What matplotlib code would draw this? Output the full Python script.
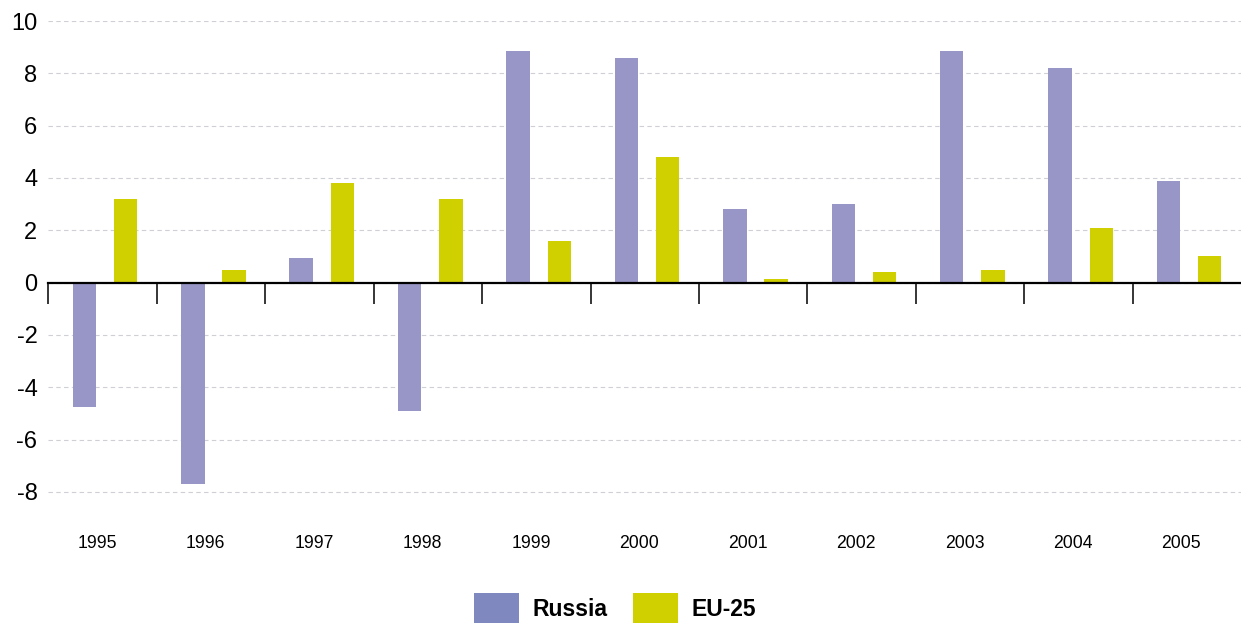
import matplotlib
matplotlib.use("Agg")
import matplotlib.pyplot as plt
import matplotlib.transforms as mtransforms
from matplotlib.patches import Patch
import numpy as np

plt.rcParams['font.family'] = ['Liberation Sans', 'DejaVu Sans']

years = ['1995', '1996', '1997', '1998', '1999', '2000', '2001', '2002', '2003', '2004', '2005']
russia = [-4.75, -7.7, 0.95, -4.9, 8.85, 8.6, 2.8, 3.0, 8.85, 8.2, 3.9]
eu25 = [3.2, 0.5, 3.8, 3.2, 1.6, 4.8, 0.15, 0.4, 0.5, 2.1, 1.0]
yticks = [-8, -6, -4, -2, 0, 2, 4, 6, 8, 10]

russia_color = '#9896c6'
eu_color = '#d0cf00'
russia_legend_color = '#7f89bf'

fig = plt.figure(figsize=(12.41, 6.23), dpi=100)
ax = fig.add_axes([48.5 / 1241, 1 - 518 / 623, 1 - 48.5 / 1241, (518 - 21) / 623])

x = np.arange(len(years))
w = 0.216
ax.bar(x - 0.169, russia, width=w, color=russia_color, zorder=2)
ax.bar(x + 0.212, eu25, width=w, color=eu_color, zorder=2)

ax.set_xlim(-0.5, len(years) - 0.5)
ax.set_ylim(-9, 10)
ax.set_yticks(yticks)
ax.set_yticklabels([str(v) for v in yticks], fontsize=17)
ax.tick_params(axis='y', length=0, pad=8)
ax.yaxis.grid(True, color='#cfcfd6', linestyle=(0, (4, 3)), linewidth=0.8)
ax.set_axisbelow(True)

for s in ['left', 'right', 'top']:
    ax.spines[s].set_visible(False)
ax.spines['bottom'].set_position(('data', 0))
ax.spines['bottom'].set_linewidth(1.6)
ax.spines['bottom'].set_color('black')
ax.spines['bottom'].set_zorder(3)
ax.set_xticks(np.arange(-0.5, len(years) - 1, 1.0))
ax.set_xticklabels([])
ax.tick_params(axis='x', direction='out', length=15, width=1.1, color='black')

trans = mtransforms.blended_transform_factory(ax.transData, fig.transFigure)
for i, yr in enumerate(years):
    ax.text(i - 0.05, 1 - 543 / 623, yr, transform=trans, ha='center', va='center', fontsize=12.7)

handles = [Patch(facecolor=russia_legend_color, label='Russia'),
           Patch(facecolor=eu_color, label='EU-25')]
leg = fig.legend(handles=handles, loc='center', bbox_to_anchor=(0.4956, 1 - 608 / 623), ncol=2,
                 frameon=False, prop={'size': 16.5, 'weight': 'bold'},
                 handlelength=1.96, handleheight=1.6, handletextpad=0.57, columnspacing=1.14,
                 borderaxespad=0, borderpad=0)

fig.savefig('out.png', dpi=100)
